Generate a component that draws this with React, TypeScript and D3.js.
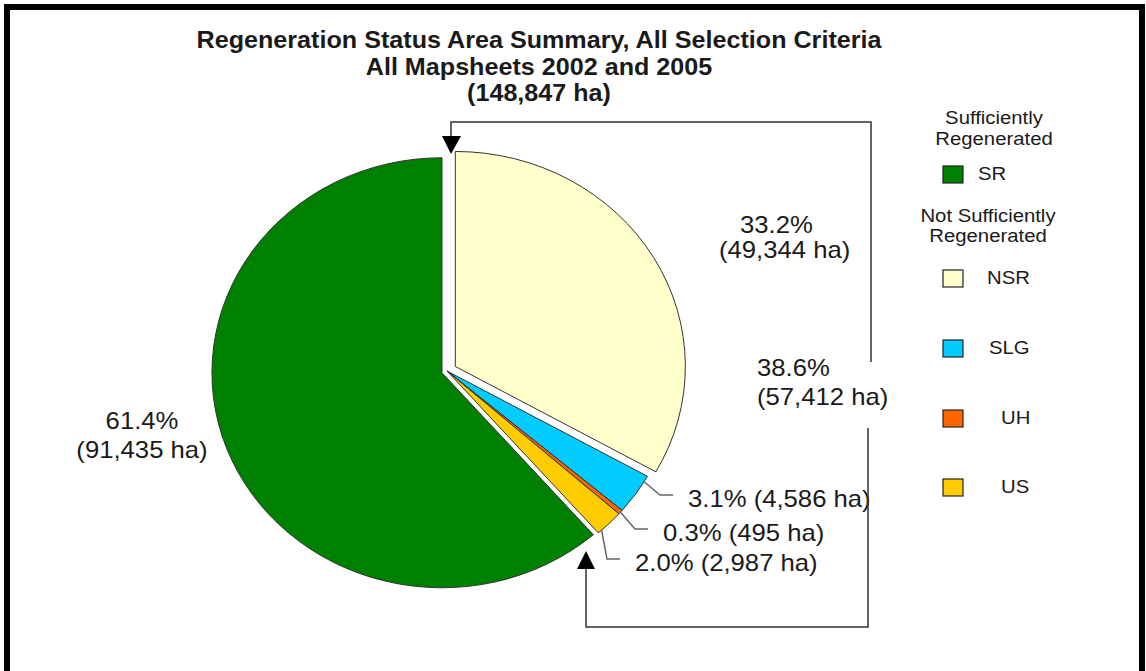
import * as d3 from "d3";
import React, { useEffect, useRef } from "react";

// pie data (ha), legend order
const categories = ["SR", "NSR", "SLG", "UH", "US"];
const areas = [91435, 49344, 4586, 495, 2987];
const colors = ["#008000", "#FFFFCC", "#00CCFF", "#FF6600", "#FFCC00"];
const titleLines = [
  "Regeneration Status Area Summary, All Selection Criteria",
  "All Mapsheets 2002 and 2005",
];
const legendHeads = [
  ["Sufficiently", "Regenerated"],
  ["Not Sufficiently", "Regenerated"],
];

const App = () => {
  const ref = useRef(null);

  useEffect(() => {
    const width = 1146;
    const height = 671;
    const cx = 447; // pie centre
    const cy = 371;
    const radius = 215;
    const stretch = 1.07; // the original is squeezed a little horizontally
    const font = "Liberation Sans, Arial, sans-serif";
    const ink = "#1a1a1a";

    const total = d3.sum(areas);
    const pct = d3.format(".1%");
    const ha = d3.format(",");
    const explode = [5, 9, 0, 0, 0];

    const svg = d3
      .select(ref.current)
      .attr("width", width)
      .attr("height", height);

    svg.selectAll("*").remove();

    svg.append("rect").attr("width", width).attr("height", height).attr("fill", "#fff");

    // frame
    svg
      .append("rect")
      .attr("x", 7)
      .attr("y", 7)
      .attr("width", 1135)
      .attr("height", 700)
      .attr("fill", "none")
      .attr("stroke", "#000")
      .attr("stroke-width", 6);

    const text = (x, y, str, size, anchor = "start", bold = false) =>
      svg
        .append("text")
        .attr("transform", `translate(${x},${y}) scale(${stretch},1)`)
        .attr("text-anchor", anchor)
        .style("font-family", font)
        .style("font-size", size + "px")
        .style("font-weight", bold ? "bold" : "normal")
        .attr("fill", ink)
        .text(str);

    // title
    titleLines.forEach((t, i) => text(539, 48 + i * 27, t, 23.5, "middle", true));
    text(539, 101, `(${ha(total)} ha)`, 23.5, "middle", true);

    // pie, SR ends at 12 o'clock
    const srFrac = areas[0] / total;
    const pie = d3
      .pie()
      .sort(null)
      .startAngle(-srFrac * 2 * Math.PI)
      .endAngle((1 - srFrac) * 2 * Math.PI);
    const arcs = pie(areas);
    const arc = d3.arc().innerRadius(0).outerRadius(radius);

    const shift = (d, i) => {
      const a = (d.startAngle + d.endAngle) / 2;
      return [Math.sin(a) * explode[i], -Math.cos(a) * explode[i]];
    };

    const g = svg
      .append("g")
      .attr("transform", `translate(${cx},${cy}) scale(${stretch},1)`);

    g.selectAll("path")
      .data(arcs)
      .enter()
      .append("path")
      .attr("transform", (d, i) => `translate(${shift(d, i).join(",")})`)
      .attr("d", arc)
      .attr("fill", (d, i) => colors[i])
      .attr("stroke", "#333")
      .attr("stroke-width", 1)
      .attr("vector-effect", "non-scaling-stroke");

    // big labels
    text(740, 233, pct(areas[1] / total), 24);
    text(719, 258, `(${ha(areas[1])} ha)`, 24);
    text(142, 429, pct(areas[0] / total), 24, "middle");
    text(142, 458, `(${ha(areas[0])} ha)`, 24, "middle");
    const notSr = d3.sum(areas.slice(1));
    text(757, 376, pct(notSr / total), 24);
    text(757, 405, `(${ha(notSr)} ha)`, 24);

    // small slice labels with leaders
    const small = [
      { i: 2, f: 0.15, x: 688, y: 507 },
      { i: 3, f: 0.5, x: 663, y: 541 },
      { i: 4, f: 0.85, x: 635, y: 571 },
    ];
    small.forEach((s) => {
      const d = arcs[s.i];
      const a = d.startAngle + s.f * (d.endAngle - d.startAngle);
      const [ox, oy] = shift(d, s.i);
      const x0 = cx + (Math.sin(a) * radius + ox) * stretch;
      const y0 = cy - Math.cos(a) * radius + oy;
      svg
        .append("path")
        .attr("d", `M${x0},${y0} L${s.x - 28},${s.y - 12} H${s.x - 15}`)
        .attr("fill", "none")
        .attr("stroke", "#666")
        .attr("stroke-width", 1.5);
      text(s.x, s.y, `${pct(areas[s.i] / total)} (${ha(areas[s.i])} ha)`, 24);
    });

    // bracket around the NSR group
    const bracket = svg.append("g").attr("fill", "none").attr("stroke", "#333").attr("stroke-width", 1.5);
    bracket.append("path").attr("d", "M451,137 V122 H871 V362");
    bracket.append("path").attr("d", "M868,428 V627 H586 V568");
    svg.append("path").attr("d", "M442,136 L461,136 L451,154 Z").attr("fill", "#000");
    svg.append("path").attr("d", "M577,569 L595,569 L586,551 Z").attr("fill", "#000");

    // legend
    text(994, 124, legendHeads[0][0], 19, "middle");
    text(994, 145, legendHeads[0][1], 19, "middle");
    text(988, 222, legendHeads[1][0], 19, "middle");
    text(988, 242, legendHeads[1][1], 19, "middle");

    const legendY = [166, 270, 340, 410, 479];
    const legendX = [978, 987, 989, 1001, 1001];
    const legend = svg
      .selectAll(".legend")
      .data(categories)
      .enter()
      .append("g")
      .attr("class", "legend")
      .attr("transform", (d, i) => `translate(943, ${legendY[i]})`);

    legend
      .append("rect")
      .attr("width", 20)
      .attr("height", 17)
      .attr("fill", (d, i) => colors[i])
      .attr("stroke", "#222")
      .attr("stroke-width", 1.2);

    categories.forEach((c, i) => text(legendX[i], legendY[i] + 14, c, 19));
  }, []);

  return <svg ref={ref} style={{ position: "absolute", left: 0, top: 0 }}></svg>;
};

export default App;
